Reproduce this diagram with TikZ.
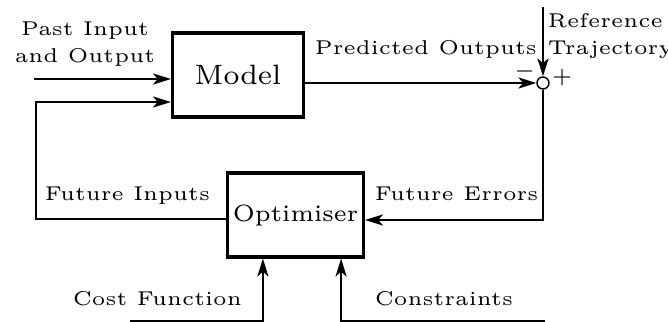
\documentclass[tikz,border=0pt]{standalone}
\usetikzlibrary{arrows.meta}
\tikzset{
  block/.style={draw,line width=0.8pt,inner sep=0pt,font=\fontsize{5.9}{7}\selectfont},
  lbl/.style={inner sep=0pt,anchor=base west,font=\fontsize{5}{6.75}\selectfont},
  sig/.style={line width=0.35pt,-{Stealth[length=4.5pt,width=2.8pt,inset=1.2pt]}}
}
\begin{document}
\begin{tikzpicture}[x=0.25pt,y=-0.25pt]
  \useasboundingbox (0,0) rectangle (668,322);
  % blocks
  \node[block,minimum width=32.75pt,minimum height=21pt,font=\fontsize{7}{8}\selectfont] (model) at (238,75) {Model};
  \node[block,minimum width=34pt,minimum height=21pt] (opt) at (295.5,215) {Optimiser};
  \node[draw,circle,line width=0.35pt,minimum size=3pt,inner sep=0pt] (sum) at (543,83) {};
  % labels
  \node[lbl,align=center,anchor=base] (past) at (85,62) {Past Input\\and Output};
  \node[lbl] (pred) at (314,54) {Predicted Outputs};
  \node[lbl,align=left] (ref) at (547,54) {Reference\\Trajectory};
  \node[lbl] (finp) at (44,200) {Future Inputs};
  \node[lbl] (ferr) at (374,200) {Future Errors};
  \node[lbl] (cost) at (72,305) {Cost Function};
  \node[lbl] (cons) at (374,305) {Constraints};
  \node[lbl] (minus) at (513,76) {$-$};
  \node[lbl] (plus) at (551,82) {$+$};
  % free ends
  \coordinate (pin) at (34,79);
  \coordinate (fb) at (36,102);
  \coordinate (fi) at (36,219);
  \coordinate (fe) at (543,220);
  \coordinate (rin) at (543,7);
  \coordinate (cf) at (130,321);
  \coordinate (cs) at (545,321);
  % signals
  \draw[sig] (pin) -- (model.west |- pin);
  \draw[sig] (opt.west |- fi) -- (fi) -- (fb) -- (model.west |- fb);
  \draw[sig] (model.east |- sum) -- (sum.west);
  \draw[sig] (rin) -- (sum.north);
  \draw[sig] (sum.south) -- (fe) -- (opt.east |- fe);
  \draw[sig] (cf) -| ([xshift=9.25pt]opt.south west);
  \draw[sig] (cs) -| ([xshift=-6pt]opt.south east);
\end{tikzpicture}
\end{document}
